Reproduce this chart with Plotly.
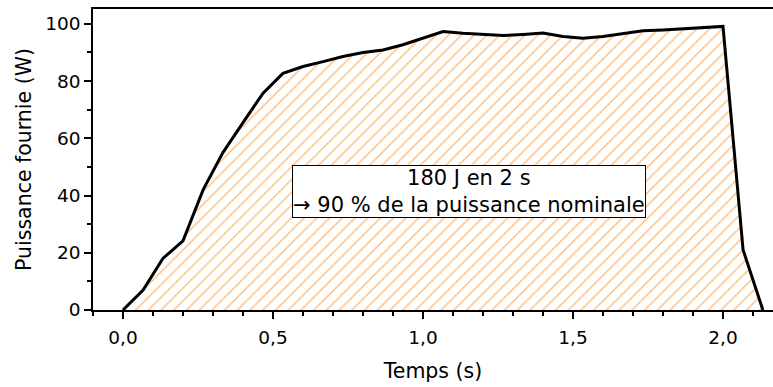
import plotly.graph_objects as go

# Data
temps = [0.0, 0.067, 0.133, 0.2, 0.267, 0.333, 0.4, 0.467, 0.533, 0.6, 0.667,
         0.733, 0.8, 0.867, 0.933, 1.0, 1.067, 1.133, 1.2, 1.267, 1.333, 1.4,
         1.467, 1.533, 1.6, 1.667, 1.733, 1.8, 1.867, 1.933, 2.0, 2.067, 2.133]
puissance = [0, 7, 18, 24.2, 42, 55, 65.5, 75.8, 82.7, 85.1, 86.8,
             88.6, 90.0, 90.9, 92.7, 95.0, 97.3, 96.7, 96.2, 95.9, 96.3, 96.8,
             95.6, 95.0, 95.6, 96.5, 97.6, 97.9, 98.3, 98.8, 99.1, 21, 0]

x_ticks = [0.0, 0.5, 1.0, 1.5, 2.0]
x_ticklabels = ["0,0", "0,5", "1,0", "1,5", "2,0"]
y_ticks = [0, 20, 40, 60, 80, 100]

annot_text = "180 J en 2 s<br>→ 90 % de la puissance nominale"
annot_x, annot_y = 1.155, 41.3

FONT = "DejaVu Sans, Arial, sans-serif"

fig = go.Figure()
fig.add_trace(go.Scatter(
    x=temps, y=puissance, mode="lines",
    line=dict(color="black", width=3),
    fill="tozeroy",
    fillcolor="rgba(0,0,0,0)",
    fillpattern=dict(shape="/", fgcolor="#FF7A00", bgcolor="white",
                     size=9, solidity=0.16),
    showlegend=False,
))

fig.add_annotation(
    x=annot_x, y=annot_y, xref="x", yref="y",
    text=annot_text, showarrow=False, align="center",
    font=dict(family=FONT, size=21, color="black"),
    bgcolor="white", bordercolor="black", borderwidth=1, borderpad=0,
)

fig.update_layout(
    width=773, height=387,
    margin=dict(l=93, r=0, t=9, b=77),
    paper_bgcolor="white", plot_bgcolor="white",
    font=dict(family=FONT, size=18, color="black"),
    separators=", ",
)
fig.update_xaxes(
    range=[-0.1, 2.1667],
    tickvals=x_ticks, ticktext=x_ticklabels,
    ticks="outside", ticklen=7, tickwidth=1.5, tickcolor="black",
    tickfont=dict(size=18.5), ticklabelstandoff=3,
    minor=dict(dtick=0.1, tick0=0, ticks="outside", ticklen=4, tickwidth=1.5, tickcolor="black"),
    showline=True, linecolor="black", linewidth=1.5, mirror=True,
    showgrid=False, zeroline=False,
    title=dict(text="Temps (s)", font=dict(size=20.5), standoff=17),
)
fig.update_yaxes(
    range=[0, 105.2],
    tickvals=y_ticks,
    ticks="outside", ticklen=7, tickwidth=1.5, tickcolor="black",
    tickfont=dict(size=18.5),
    minor=dict(dtick=10, tick0=0, ticks="outside", ticklen=4, tickwidth=1.5, tickcolor="black"),
    showline=True, linecolor="black", linewidth=1.5,
    showgrid=False, zeroline=False,
    title=dict(text="Puissance fournie (W)", font=dict(size=20.5), standoff=8),
)

fig.write_html("out.html", config={"displayModeBar": False},
               post_script="document.body.style.margin='0';")
